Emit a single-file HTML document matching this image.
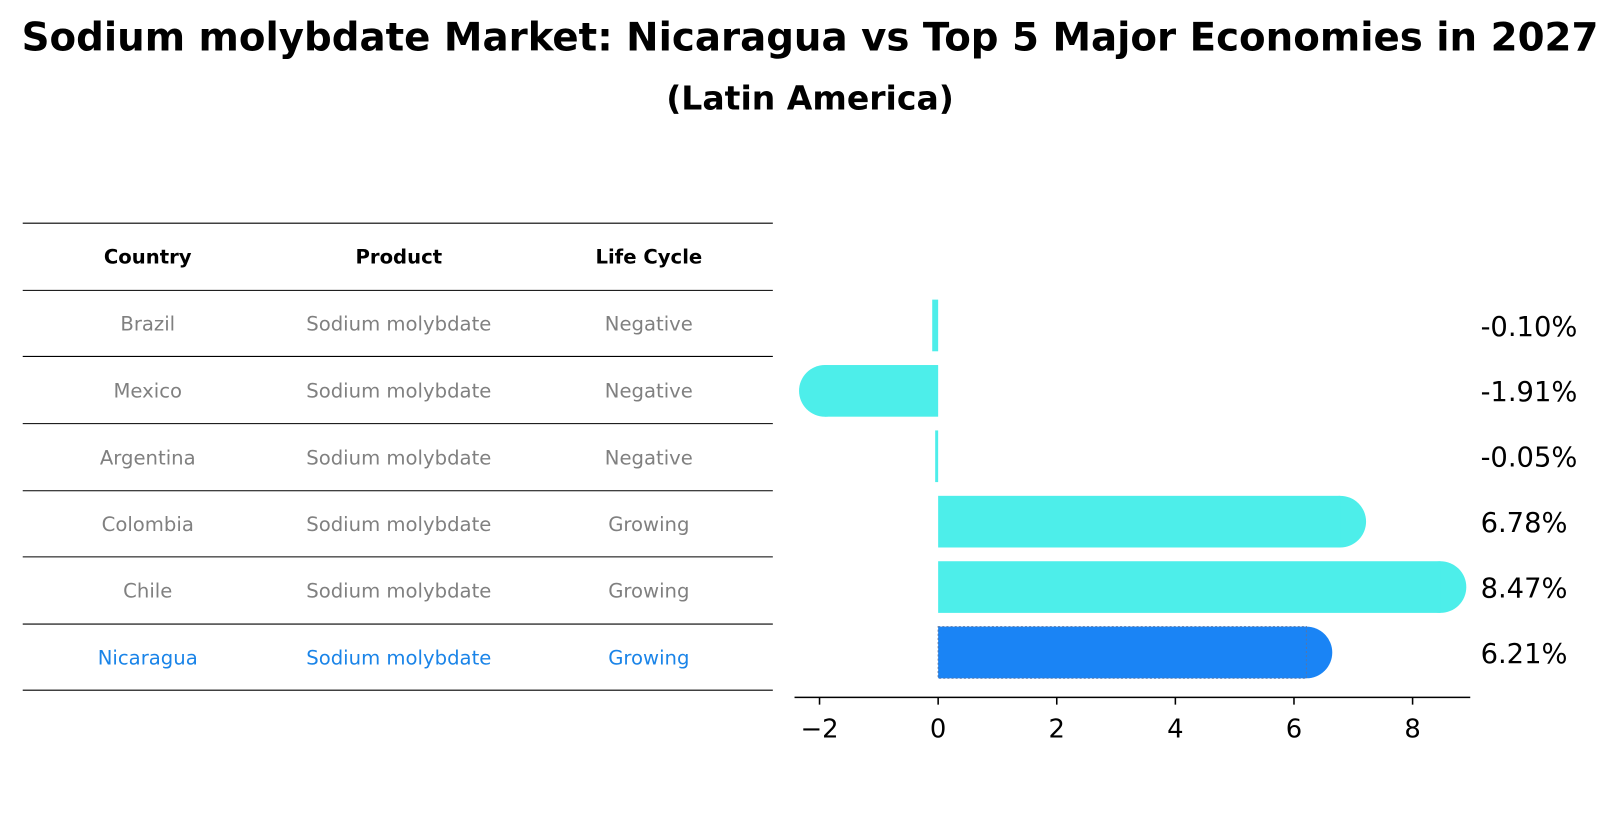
<!DOCTYPE html>
<html><head><meta charset="utf-8"><style>
body{margin:0;background:#fff;font-family:"Liberation Sans","DejaVu Sans",sans-serif;}
svg text{font-family:"DejaVu Sans","Liberation Sans",sans-serif;}
</style></head><body>
<svg id="c" width="1620" height="823" xmlns="http://www.w3.org/2000/svg">
<g transform="scale(1.0332)">
<text x="784" y="49" text-anchor="middle" font-size="37.5" font-weight="bold">Sodium molybdate Market: Nicaragua vs Top 5 Major Economies in 2027</text>
<text x="784" y="106" text-anchor="middle" font-size="32" font-weight="bold">(Latin America)</text>
<g id="table"></g>
<g id="bars"></g>
</g>
</svg>
<script>
const countries=["Brazil","Mexico","Argentina","Colombia","Chile","Nicaragua"];
const values=[-0.10,-1.91,-0.05,6.78,8.47,6.21];
const lifeCycle=["Negative","Negative","Negative","Growing","Growing","Growing"];
const product="Sodium molybdate";
const ticks=[-2,0,2,4,6,8];
const NS="http://www.w3.org/2000/svg";
const tg=document.getElementById('table'), bg=document.getElementById('bars');
function mk(tag,attrs,parent,txt){const e=document.createElementNS(NS,tag);for(const k in attrs)e.setAttribute(k,attrs[k]);if(txt!==undefined)e.textContent=txt;parent.appendChild(e);return e;}
// table
const lineY=[216,281,345,410,475,539,604,668];
lineY.forEach((y,i)=>{const l=mk('line',{x1:22,x2:748,y1:y,y2:y,stroke:'#000','stroke-width':1},tg);

});
const colX=[143,386,628];
["Country","Product","Life Cycle"].forEach((h,i)=>{const t=mk('text',{x:colX[i],y:255,'text-anchor':'middle','font-size':19,'font-weight':'bold'},tg,h);

});
countries.forEach((c,i)=>{const y=(lineY[i+1]+lineY[i+2])/2+7;const col=c==="Nicaragua"?'#1a84e8':'#808080';
[c,product,lifeCycle[i]].forEach((v,j)=>{const t=mk('text',{x:colX[j],y:y,'text-anchor':'middle','font-size':19,fill:col},tg,v);

});});
// chart
const x0=908, ppu=57.4;
const xs=v=>x0+v*ppu;
const yc=i=>315+i*63.3;
const h=50, r=25;
values.forEach((v,i)=>{const nic=countries[i]==="Nicaragua";const fill=nic?'#1a84f5':'#4deeea';
const xa=Math.min(xs(0),xs(v)), xb=Math.max(xs(0),xs(v));
const g=mk('g',{},bg);


if(Math.abs(v)>0.3){mk('circle',{cx:xs(v),cy:yc(i),r:r,fill:fill},g);}
mk('rect',{x:xa,y:yc(i)-h/2,width:Math.max(xb-xa,1.5),height:h,fill:fill,stroke:nic?'#5577aa':'none','stroke-dasharray':'2,2','stroke-width':1},g);
const t=mk('text',{x:1433,y:yc(i)+10,'font-size':26.5},bg,v.toFixed(2)+'%');

});
const ax=mk('line',{x1:769,x2:1423,y1:675,y2:675,stroke:'#000','stroke-width':1.5},bg);


ticks.forEach(t=>{mk('line',{x1:xs(t),x2:xs(t),y1:675,y2:682,stroke:'#000','stroke-width':1.5},bg);
const l=mk('text',{x:xs(t),y:714,'text-anchor':'middle','font-size':25},bg,(t<0?'\u2212':'')+Math.abs(t));

});
</script>
</body></html>
